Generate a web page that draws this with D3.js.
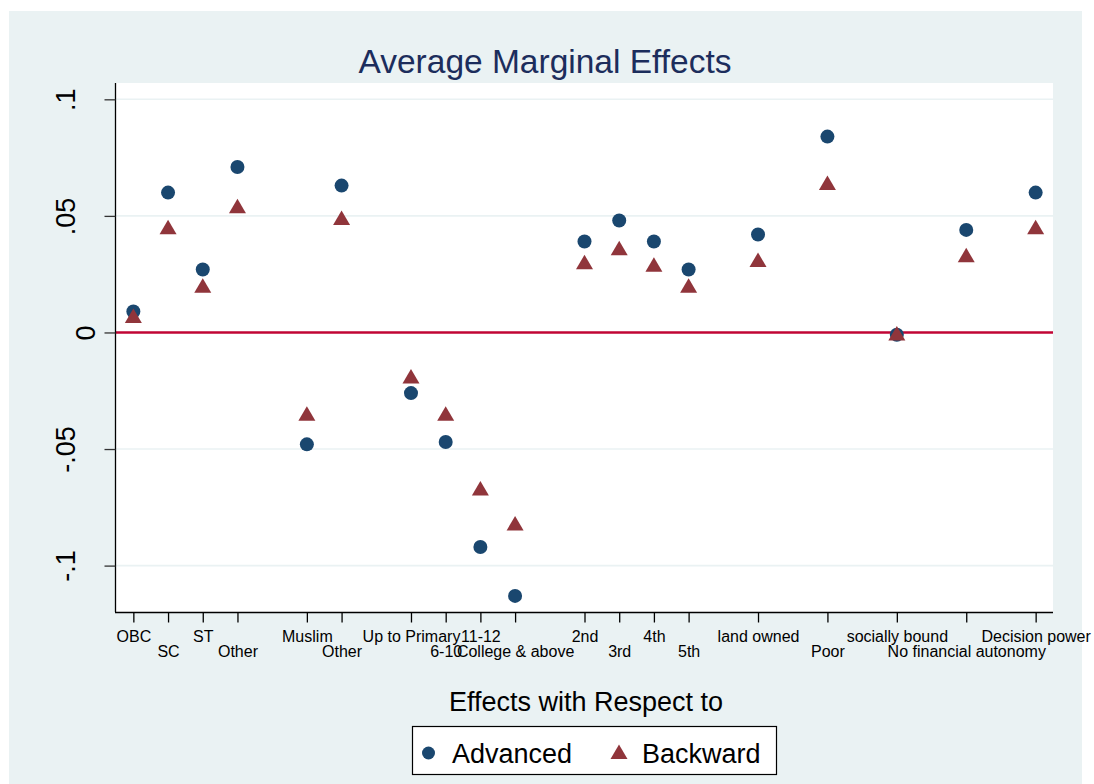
<!DOCTYPE html>
<html><head><meta charset="utf-8">
<script src="https://cdn.jsdelivr.net/npm/d3@7"></script>
<style>html,body{margin:0;padding:0;background:#fff}svg{display:block;font-family:"Liberation Sans",Arial,sans-serif}</style>
</head><body>
<script>
const categories = ["OBC","SC","ST","Other","Muslim","Other","Up to Primary","6-10","11-12","College & above","2nd","3rd","4th","5th","land owned","Poor","socially bound","No financial autonomy","Decision power"];
const positions = [1,2,3,4,6,7,9,10,11,12,14,15,16,17,19,21,23,25,27];
const advanced = [0.009,0.060,0.027,0.071,-0.048,0.063,-0.026,-0.047,-0.092,-0.113,0.039,0.048,0.039,0.027,0.042,0.084,-0.001,0.044,0.060];
const backward = [0.007,0.045,0.020,0.054,-0.035,0.049,-0.019,-0.035,-0.067,-0.082,0.030,0.036,0.029,0.020,0.031,0.064,-0.0005,0.033,0.045];
const yTicks = [-0.1,-0.05,0,0.05,0.1];
const yTickLabels = ["-.1","-.05","0",".05",".1"];
const seriesNames = ["Advanced","Backward"];

const W=1094,H=784;
const svg=d3.select("body").append("svg").attr("width",W).attr("height",H);
svg.append("rect").attr("x",9).attr("y",11).attr("width",1073).attr("height",H-11).attr("fill","#eaf2f3");
const L=116,R=1053,T=83,B=612;
svg.append("rect").attr("x",L).attr("y",T).attr("width",R-L).attr("height",B-T).attr("fill","#fff");
const x=d3.scaleLinear().domain([0.5,27.5]).range([L,R]);
const y=d3.scaleLinear().domain([-0.1199,0.107]).range([B,T]);

// grid
svg.append("g").selectAll("line").data(yTicks.filter(d=>d!==0)).join("line")
 .attr("x1",L).attr("x2",R).attr("y1",d=>y(d)).attr("y2",d=>y(d))
 .attr("stroke","#eaf2f3").attr("stroke-width",1.6);
// zero line
svg.append("line").attr("x1",L).attr("x2",R).attr("y1",y(0)).attr("y2",y(0)).attr("stroke","#c10534").attr("stroke-width",2.6);

// y axis
const yAxis=d3.axisLeft(y).tickValues(yTicks).tickSize(11).tickFormat((d,i)=>yTickLabels[i]);
const gy=svg.append("g").attr("transform",`translate(${L-0.5},0)`).call(yAxis);
gy.select(".domain").attr("d",`M0,${T}V${B}`).attr("stroke","#000").attr("stroke-width",1.3);
gy.selectAll(".tick line").attr("stroke","#333").attr("stroke-width",1.3);
gy.selectAll(".tick text").attr("x",0).attr("y",0).attr("dy",0)
 .attr("transform",d=>`translate(${(d===0?95:75)-L+0.5},0) rotate(-90)`)
 .attr("text-anchor","middle").attr("font-size",27).attr("fill","#000").attr("font-family","Liberation Sans, Arial, sans-serif");

// x axis
const xAxis=d3.axisBottom(x).tickValues(positions).tickSize(10).tickFormat((d,i)=>categories[i]);
const gx=svg.append("g").attr("transform",`translate(0,${B+0.5})`).call(xAxis);
gx.select(".domain").attr("d",`M${L-1},0H${R}`).attr("stroke","#000").attr("stroke-width",1.3);
gx.selectAll(".tick line").attr("stroke","#000").attr("stroke-width",1.3);
gx.selectAll(".tick text").attr("dy",0).attr("y",(d,i)=>i%2===0?29.5:44.5)
 .attr("font-size",16).attr("fill","#000").attr("font-family","Liberation Sans, Arial, sans-serif");

// points
const circ="#1a476f", tri="#90353b";
svg.append("g").selectAll("circle").data(advanced).join("circle")
 .attr("cx",(d,i)=>x(positions[i])).attr("cy",d=>y(d)).attr("r",7).attr("fill",circ);
const triPath=(cx,cy)=>`M${cx},${cy-7.5}L${cx+8.5},${cy+7}L${cx-8.5},${cy+7}Z`;
svg.append("g").selectAll("path").data(backward).join("path")
 .attr("d",(d,i)=>triPath(x(positions[i]),y(d)-0.2)).attr("fill",tri);

// title
svg.append("text").attr("x",545).attr("y",73).attr("text-anchor","middle").attr("font-size",33.5).attr("fill","#1c2d5c").text("Average Marginal Effects");
svg.append("text").attr("x",586).attr("y",711).attr("text-anchor","middle").attr("font-size",27).attr("fill","#000").text("Effects with Respect to");

// legend
const lg=svg.append("g");
lg.append("rect").attr("x",412.5).attr("y",726.5).attr("width",364).attr("height",48).attr("fill","#fff").attr("stroke","#000").attr("stroke-width",1.2);
lg.append("circle").attr("cx",428.5).attr("cy",753).attr("r",6.5).attr("fill",circ);
lg.append("text").attr("x",452).attr("y",763).attr("font-size",27).text(seriesNames[0]);
lg.append("path").attr("d",triPath(619,752)).attr("fill",tri);
lg.append("text").attr("x",642).attr("y",763).attr("font-size",27).text(seriesNames[1]);
</script>
</body></html>
